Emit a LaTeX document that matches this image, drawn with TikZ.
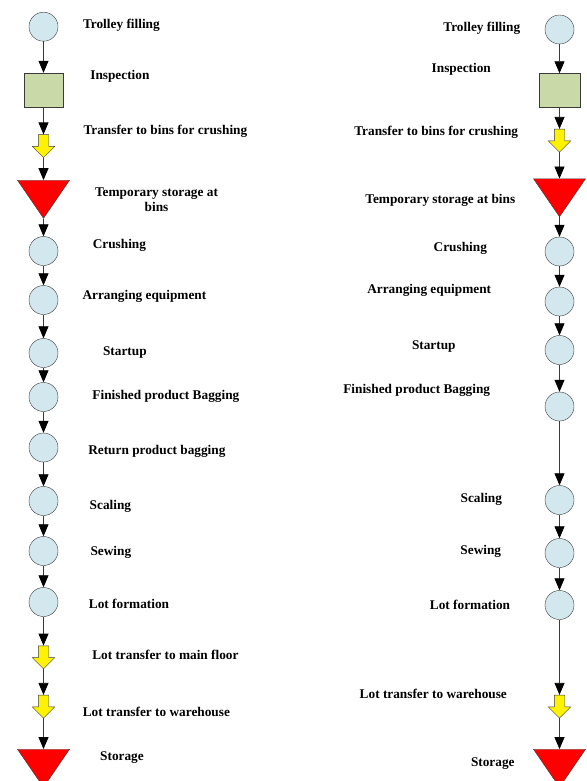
\documentclass[tikz,border=0pt]{standalone}
\usepackage{fontspec}
\setmainfont{Liberation Serif}
\usetikzlibrary{arrows.meta,shapes.geometric,shapes.arrows}
\definecolor{opblue}{HTML}{D3E8EE}
\definecolor{inspgreen}{HTML}{CAD9A8}
\definecolor{edgegray}{HTML}{3A3A3A}

\begin{document}
\begin{tikzpicture}[x=1pt,y=-1pt,
    operation/.style ={circle, draw=edgegray, fill=opblue, minimum size=29pt, inner sep=0pt},
    inspection/.style ={rectangle, draw=edgegray, fill=inspgreen, minimum height=34pt, inner sep=0pt},
    transport/.style ={single arrow, draw=edgegray, fill=yellow, rotate=-90, minimum height=23pt,
        single arrow head extend=6pt, inner sep=5pt},
    storage/.style ={isosceles triangle, isosceles triangle stretches, draw=edgegray, fill=red,
        rotate=-90, minimum width=52pt, minimum height=38pt, inner sep=0pt},
    activity/.style ={font=\bfseries\fontsize{13.3}{15}\selectfont, inner sep=0pt, align=center},
    flow/.style ={draw=edgegray, line width=0.8pt, -{Triangle[width=10pt,length=12pt,black]}}]
   \useasboundingbox (0,0) rectangle (586,781);

   % left chart
   \node[operation] (L1)  at (43.5,26.7)  {};
   \node[inspection,minimum width=39pt] (L2)  at (43.5,90)  {};
   \node[transport] (L3)  at (43.5,143.5)  {};
   \node[storage] (L4)  at (43.5,194)  {};
   \node[operation] (L5)  at (43.5,251)  {};
   \node[operation] (L6)  at (43.5,300)  {};
   \node[operation] (L7)  at (43.5,353)  {};
   \node[operation] (L8)  at (43.5,397)  {};
   \node[operation] (L9)  at (43.5,447.5)  {};
   \node[operation] (L10)  at (43.5,501)  {};
   \node[operation] (L11)  at (43.5,551)  {};
   \node[operation] (L12)  at (43.5,602)  {};
   \node[transport] (L13)  at (43.5,654.7)  {};
   \node[transport] (L14)  at (43.5,704)  {};
   \node[storage] (L15)  at (43.5,763)  {};

   \draw[flow] (L1) to (L2);
   \draw[flow] (L2) to (L3);
   \draw[flow] (L3) to (L4);
   \draw[flow] (L4) to (L5);
   \draw[flow] (L5) to (L6);
   \draw[flow] (L6) to (L7);
   \draw[flow] (L7) to (L8);
   \draw[flow] (L8) to (L9);
   \draw[flow] (L9) to (L10);
   \draw[flow] (L10) to (L11);
   \draw[flow] (L11) to (L12);
   \draw[flow] (L12) to (L13);
   \draw[flow] (L13) to (L14);
   \draw[flow] (L14) to (L15);

   \node[activity] (tL1)  at (121.4,25)  {Trolley filling};
   \node[activity] (tL2)  at (119.9,76)  {Inspection};
   \node[activity] (tL3)  at (165.4,131.7)  {Transfer to bins for crushing};
   \node[activity] (tL4)  at (156.5,199.5)  {Temporary storage at\\bins};
   \node[activity] (tL5)  at (119.4,245)  {Crushing};
   \node[activity] (tL6)  at (144.4,296.7)  {Arranging equipment};
   \node[activity] (tL7)  at (124.9,352.7)  {Startup};
   \node[activity] (tL8)  at (165.9,396.7)  {Finished product Bagging};
   \node[activity] (tL9)  at (156.9,451.7)  {Return product bagging};
   \node[activity] (tL10)  at (110.4,506.7)  {Scaling};
   \node[activity] (tL11)  at (110.9,552.7)  {Sewing};
   \node[activity] (tL12)  at (129,604)  {Lot formation};
   \node[activity] (tL13)  at (165.4,655)  {Lot transfer to main floor};
   \node[activity] (tL14)  at (156.4,711.7)  {Lot transfer to warehouse};
   \node[activity] (tL15)  at (122,758)  {Storage};

   % right chart
   \node[operation] (R1)  at (559.5,29.5)  {};
   \node[inspection,minimum width=41pt] (R2)  at (559.5,90.5)  {};
   \node[transport] (R3)  at (559.5,138)  {};
   \node[storage] (R4)  at (559.5,192.5)  {};
   \node[operation] (R5)  at (559.5,251.5)  {};
   \node[operation] (R6)  at (559.5,301.5)  {};
   \node[operation] (R7)  at (559.5,350)  {};
   \node[operation] (R8)  at (559.5,406.5)  {};
   \node[operation] (R9)  at (559.5,500)  {};
   \node[operation] (R10)  at (559.5,553)  {};
   \node[operation] (R11)  at (559.5,605)  {};
   \node[transport] (R12)  at (559.5,704)  {};
   \node[storage] (R13)  at (559.5,763)  {};

   \draw[flow] (R1) to (R2);
   \draw[flow] (R2) to (R3);
   \draw[flow] (R3) to (R4);
   \draw[flow] (R4) to (R5);
   \draw[flow] (R5) to (R6);
   \draw[flow] (R6) to (R7);
   \draw[flow] (R7) to (R8);
   \draw[flow] (R8) to (R9);
   \draw[flow] (R9) to (R10);
   \draw[flow] (R10) to (R11);
   \draw[flow] (R11) to (R12);
   \draw[flow] (R12) to (R13);

   \node[activity] (tR1)  at (481.8,28.3)  {Trolley filling};
   \node[activity] (tR2)  at (461.3,69.3)  {Inspection};
   \node[activity] (tR3)  at (436.2,132.3)  {Transfer to bins for crushing};
   \node[activity] (tR4)  at (440.3,200)  {Temporary storage at bins};
   \node[activity] (tR5)  at (460.3,248.3)  {Crushing};
   \node[activity] (tR6)  at (429.2,290)  {Arranging equipment};
   \node[activity] (tR7)  at (433.8,346.7)  {Startup};
   \node[activity] (tR8)  at (416.7,390.7)  {Finished product Bagging};
   \node[activity] (tR9)  at (481.3,499.3)  {Scaling};
   \node[activity] (tR10)  at (480.8,551.7)  {Sewing};
   \node[activity] (tR11)  at (470,605)  {Lot formation};
   \node[activity] (tR12)  at (433.3,694.3)  {Lot transfer to warehouse};
   \node[activity] (tR13)  at (492.8,763.3)  {Storage};
 \end{tikzpicture}
\end{document}
